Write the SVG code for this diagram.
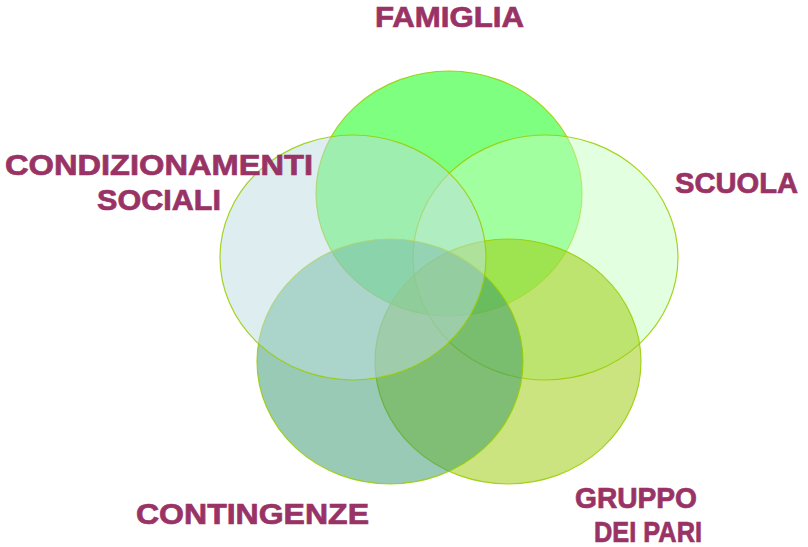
<svg xmlns="http://www.w3.org/2000/svg" width="808" height="547" viewBox="0 0 808 547">
<style>
.c{stroke:#99cc00;stroke-width:1.2;fill-opacity:0.5;stroke-opacity:0.85}
.t{font-family:"Liberation Sans",Arial,sans-serif;font-weight:bold;font-size:29px;fill:#993366;stroke:#993366;stroke-width:0.7}
</style>
<rect width="808" height="547" fill="#ffffff"/>
<g id="famiglia"><ellipse class="c" cx="449" cy="193.5" rx="133" ry="122.5" fill="#00ff00"/></g>
<g id="scuola"><ellipse class="c" cx="545.5" cy="257.5" rx="132.5" ry="122.5" fill="#c5ffc1"/></g>
<g id="gruppo"><ellipse class="c" cx="508" cy="361.5" rx="133" ry="122.5" fill="#99c900"/></g>
<g id="contingenze"><ellipse class="c" cx="390" cy="361.5" rx="133" ry="122.5" fill="#33956b"/></g>
<g id="condizionamenti"><ellipse class="c" cx="353" cy="257.5" rx="133" ry="122.5" fill="#bddde1"/></g>
<g id="labels">
<text class="t" x="375" y="27" textLength="149" lengthAdjust="spacingAndGlyphs">FAMIGLIA</text>
<text class="t" x="5" y="175" textLength="308" lengthAdjust="spacingAndGlyphs">CONDIZIONAMENTI</text>
<text class="t" x="97" y="210" textLength="124" lengthAdjust="spacingAndGlyphs">SOCIALI</text>
<text class="t" x="675" y="193" textLength="123" lengthAdjust="spacingAndGlyphs">SCUOLA</text>
<text class="t" x="136" y="524" textLength="233" lengthAdjust="spacingAndGlyphs">CONTINGENZE</text>
<text class="t" x="575" y="508" textLength="122" lengthAdjust="spacingAndGlyphs">GRUPPO</text>
<text class="t" x="594" y="542" textLength="108" lengthAdjust="spacingAndGlyphs">DEI PARI</text>
</g>
</svg>
